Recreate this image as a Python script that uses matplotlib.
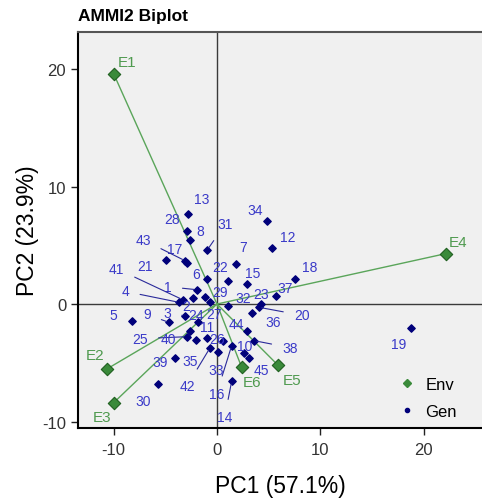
import matplotlib.pyplot as plt
from matplotlib.lines import Line2D

plt.rcParams["axes.unicode_minus"] = False

# Environment scores (PC1, PC2)
env_ids = ["E1", "E2", "E3", "E4", "E5", "E6"]
env_pc1 = [-10.0, -10.6, -10.0, 22.2, 5.9, 2.4]
env_pc2 = [19.6, -5.5, -8.4, 4.3, -5.2, -5.4]

# Genotype scores (PC1, PC2)
gen_ids = [str(i) for i in range(1, 46)]
gen_pc1 = [-1.97, -2.29, -3.10, -3.65, -8.26, -0.94, 1.84, -2.61, -4.65, 2.61,
           -0.94, 5.35, -2.84, 1.42, 2.93, 1.42, -2.90, 7.55, 18.81, 4.07,
           -4.94, 1.04, 4.30, -1.81, -2.93, 0.61, -0.68, -2.93, -1.16, -5.68,
           -0.94, 1.09, 0.13, 4.81, -2.03, 3.42, 5.68, 3.61, -4.07, -2.61,
           -3.32, -0.68, -3.10, 2.88, 3.10]
gen_pc2 = [1.22, 0.51, -1.00, 0.14, -1.47, 2.13, 3.38, 5.47, -1.56, -4.20,
           -2.92, 4.77, 7.66, -6.58, 1.73, -3.55, 3.49, 2.13, -2.07, -0.28,
           3.74, 1.93, 0.00, -1.56, -2.78, -3.12, 0.14, 6.19, 0.57, -6.81,
           4.60, -0.20, -4.11, 7.04, -3.04, -0.79, 0.71, -3.12, -4.62, -2.32,
           0.37, -3.74, 3.69, -2.27, -4.60]

# label offsets in pixels (dx, dy) and whether a leader line is drawn
lab_off = {
    "1": (-29, 3, True), "2": (-7, -8, False), "3": (-18, 3, True),
    "4": (-54, 11, True), "5": (-18, 6, False), "6": (-11, 5, False),
    "7": (7, 17, False), "8": (10, 9, False), "9": (-22, 8, True),
    "10": (1, 7, False), "11": (0, 11, False), "12": (15, 11, False),
    "13": (14, 15, False), "14": (-7, -36, True), "15": (5, 11, False),
    "16": (-15, -48, True), "17": (-12, 14, False), "18": (15, 12, False),
    "19": (-13, -16, False), "20": (43, -8, True), "21": (-21, -6, False),
    "22": (-8, 14, False), "23": (0, 10, False), "24": (-2, 7, False),
    "25": (-47, -2, True), "26": (-6, 2, False), "27": (4, -12, False),
    "28": (-15, 12, False), "29": (15, 5, False), "30": (-15, -17, False),
    "31": (18, 26, True), "32": (15, 8, False), "33": (-2, -18, False),
    "34": (-12, 11, False), "35": (-6, -21, False), "36": (21, -9, False),
    "37": (9, 8, False), "38": (36, -7, True), "39": (-15, -4, False),
    "40": (-22, -8, False), "41": (-66, 31, True), "42": (-23, -38, True),
    "43": (-42, 21, True), "44": (-10, 7, False), "45": (12, -12, False),
}
env_off = {"E1": (13, 12), "E2": (-12, 14), "E3": (-12, -14),
           "E4": (12, 12), "E5": (14, -15), "E6": (10, -15)}

env_col = "#3a8a3a"
env_txt = "#4f9a4f"
gen_col = "#00007a"
gen_txt = "#3a3ac8"
font = "Liberation Sans"

fig = plt.figure(figsize=(4.82, 5.02), dpi=100)
ax = fig.add_axes([78 / 482, 1 - 429 / 502, 1 - 78 / 482, (429 - 33) / 502])
ax.set_facecolor("#f0f0f0")

ax.axhline(0, color="#3a3a3a", lw=1, zorder=1)
ax.axvline(0, color="#3a3a3a", lw=1, zorder=1)

# environment vectors
for x, y in zip(env_pc1, env_pc2):
    ax.plot([0, x], [0, y], color="#5aa55a", lw=1, zorder=2)
ax.scatter(env_pc1, env_pc2, marker="D", s=40, color=env_col,
           edgecolor="#1f5f1f", linewidth=0.8, zorder=4)
for name, x, y in zip(env_ids, env_pc1, env_pc2):
    dx, dy = env_off[name]
    ax.annotate(name, (x, y), xytext=(dx, dy), textcoords="offset pixels",
                ha="center", va="center", color=env_txt, fontsize=11,
                family=font, zorder=5)

# genotypes
ax.scatter(gen_pc1, gen_pc2, marker="D", s=14, color=gen_col, zorder=4)
for name, x, y in zip(gen_ids, gen_pc1, gen_pc2):
    dx, dy, line = lab_off[name]
    props = dict(arrowstyle="-", color="#2a2a9a", lw=0.8,
                 shrinkA=6, shrinkB=2) if line else None
    ax.annotate(name, (x, y), xytext=(dx, dy), textcoords="offset pixels",
                ha="center", va="center", color=gen_txt, fontsize=10,
                family=font, arrowprops=props, zorder=5)

ax.set_xlim(-13.45, 25.65)
ax.set_ylim(-10.55, 23.15)
ax.set_xticks([-10, 0, 10, 20])
ax.set_yticks([-10, 0, 10, 20])
ax.tick_params(labelsize=12, colors="#222222", length=5, width=1)
ax.tick_params(axis="x", pad=5)
for lab in ax.get_xticklabels() + ax.get_yticklabels():
    lab.set_family(font)
    lab.set_color("#333333")

ax.spines["right"].set_visible(False)
ax.spines["left"].set_linewidth(1.5)
ax.spines["bottom"].set_linewidth(1.5)
ax.spines["top"].set_color("#555555")
ax.spines["top"].set_linewidth(1.5)

ax.set_xlabel("PC1 (57.1%)", fontsize=16.5, family=font, labelpad=12)
ax.set_ylabel("PC2 (23.9%)", fontsize=16.5, family=font, labelpad=2)

fig.text(78 / 482, 1 - 17 / 502, "AMMI2 Biplot", fontsize=12.5, weight="bold",
         family=font, va="center", ha="left")

handles = [
    Line2D([], [], marker="D", ls="", color=env_col, markersize=4),
    Line2D([], [], marker="o", ls="", color=gen_col, markersize=3),
]
leg = ax.legend(handles, ["Env", "Gen"], loc="lower right", frameon=False,
                prop={"family": font, "size": 12},
                bbox_to_anchor=(0.975, -0.015), handlelength=1.0,
                handletextpad=0.6, labelspacing=0.7)

fig.savefig("out.png", dpi=100)
